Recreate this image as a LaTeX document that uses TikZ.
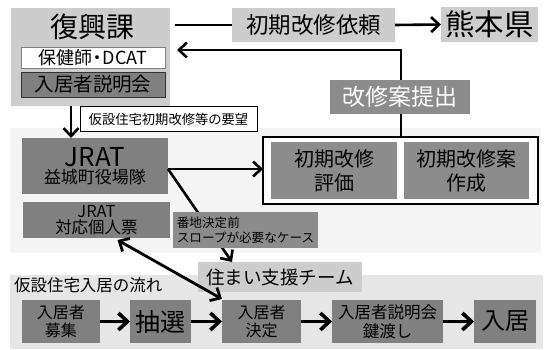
\documentclass[tikz,border=0pt]{standalone}
\usepackage{fontspec}
\setmainfont{Noto Sans CJK JP}
\usetikzlibrary{arrows.meta,calc}
\definecolor{lgray}{HTML}{CDCDCD}
\definecolor{dgray}{HTML}{808080}
\definecolor{mgray}{HTML}{8C8C8C}
\definecolor{bandA}{HTML}{F4F4F4}
\definecolor{bandB}{HTML}{E6E6E6}
\newcommand{\fs}[1]{\fontsize{#1}{#1}\selectfont}
\begin{document}
\begin{tikzpicture}[x=1pt,y=-1pt,
  box/.style={inner sep=0pt, outer sep=0pt, anchor=center, align=center, text=black},
  lbox/.style={box, fill=lgray},
  dbox/.style={box, fill=dgray},
  mbox/.style={box, fill=mgray},
  ln/.style={line width=2.6pt},
  arr/.style={line width=2.6pt, -{Straight Barb[length=8pt,width=15pt]}},
  darr/.style={line width=2.8pt, {Straight Barb[length=8pt,width=15pt]}-{Straight Barb[length=8pt,width=15pt]}},
  barr/.style={line width=3.6pt, -{Straight Barb[length=9pt,width=17pt]}}
]
\useasboundingbox (0,0) rectangle (547,350);
\fill[white] (0,0) rectangle (547,350);
% bands
\fill[bandA] (10,128) rectangle (541,253);
\fill[bandB] (10,275) rectangle (543,349);

% top group
\node[lbox, minimum width=159pt, minimum height=98pt] (fukko) at (90.5,57) {};
\node[box, font=\fs{28}] (fukkoT) at (92,27) {復興課};
\node[box, fill=white, draw=gray, line width=0.8pt, minimum width=144pt, minimum height=21pt, font=\fs{18}] (hoken) at (93,57.5) {保健師\kern-4pt・\kern-4pt DCAT};
\node[dbox, draw=black!80, line width=0.8pt, minimum width=144pt, minimum height=25pt, font=\fs{19.5}] (setsu) at (93,84.5) {入居者説明会};

\node[lbox, minimum width=163pt, minimum height=34pt, font=\fs{22.5}] (irai) at (313.5,25) {初期改修依頼};
\node[lbox, minimum width=97pt, minimum height=35pt, font=\fs{29.5}] (kuma) at (489.5,24.5) {熊本県};

% middle
\node[box, fill=white, draw=black, line width=1pt, minimum width=177pt, minimum height=25pt, font=\fs{13.3}] (yobo) at (168.5,119.5) {仮設住宅初期改修等の要望};
\node[dbox, minimum width=146pt, minimum height=56pt] (jrat1) at (95,166)
  {{\fs{26}JRAT}\\[1pt]{\fs{17}益城町役場隊}};
\node[dbox, minimum width=147pt, minimum height=36pt] (jrat2) at (96.5,220)
  {{\fs{16.5}JRAT}\\[1pt]{\fs{16.5}対応個人票}};
\node[box, fill=white, draw=black, line width=2pt, minimum width=275pt, minimum height=67pt] (border) at (400.5,170.5) {};
\node[mbox, minimum width=126pt, minimum height=57pt, font=\fs{20}] (hyoka) at (334,170.5) {初期改修\\[4pt]評価};
\node[mbox, minimum width=125pt, minimum height=57pt, font=\fs{20}] (sakusei) at (466.5,170.5) {初期改修案\\[4pt]作成};

% bottom
\node[lbox, minimum width=164pt, minimum height=30pt, font=\fs{18.5}] (sumai) at (280,277) {住まい支援チーム};
\node[box, anchor=west, font=\fs{16.5}] (nagare) at (14,285) {仮設住宅入居の流れ};
\node[dbox, minimum width=78pt, minimum height=43pt, font=\fs{16}] (boshu) at (61,321.5) {入居者\\[2pt]募集};
\node[dbox, minimum width=61pt, minimum height=43pt, font=\fs{25}] (chusen) at (160.5,321.5) {抽選};
\node[dbox, minimum width=79pt, minimum height=43pt, font=\fs{16}] (kettei) at (261.5,321.5) {入居者\\[2pt]決定};
\node[dbox, minimum width=111pt, minimum height=43pt, font=\fs{16.5}] (kagi) at (387.5,321.5) {入居者説明会\\[2pt]鍵渡し};
\node[dbox, minimum width=62pt, minimum height=43pt, font=\fs{24}] (nyukyo) at (505,321.5) {入居};

% connectors
\draw[ln] ([xshift=5pt]fukko.east |- irai.west) -- (irai.west);
\draw[arr] (irai.east) -- (kuma.west);
\coordinate (fb) at (177,50);
\draw[arr] (border.north -| 401,0) |- (fb);
\node[mbox, minimum width=140pt, minimum height=34pt, font=\fs{23}, text=white] (teian) at (400,97) {改修案提出};
\coordinate (dn) at (71,106);
\draw[arr] (dn) -- (dn |- jrat1.north);
\coordinate (jr) at ([yshift=-3pt]jrat1.east);
\draw[arr] (jr) -- (jr -| border.west);
\draw[arr] (jr) -- ($(sumai.north west)+(34,0)$);
\node[mbox, minimum width=145pt, minimum height=36pt, font=\fs{12.6}, align=left] (banchi) at (245.5,230) {番地決定前\\[3pt]スロープが必要なケース};
\draw[darr] ($(jrat2.south)+(21,2)$) -- ($(kettei.north west)+(0,-1)$);
\draw[barr] (boshu.east) -- (chusen.west);
\draw[barr] (chusen.east) -- (kettei.west);
\draw[barr] (kettei.east) -- (kagi.west);
\draw[barr] (kagi.east) -- (nyukyo.west);
\end{tikzpicture}
\end{document}
